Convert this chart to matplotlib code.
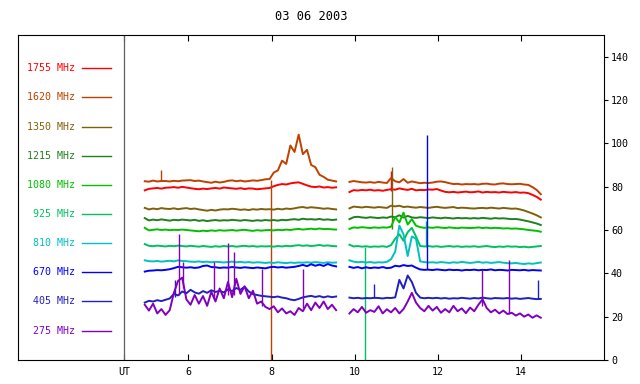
import numpy as np
import matplotlib
matplotlib.use('Agg')
import matplotlib.pyplot as plt
from matplotlib.transforms import blended_transform_factory

plt.rcParams['font.family'] = 'DejaVu Sans Mono'
plt.rcParams['font.size'] = 7.2

title = '03 06 2003'
x_ticks = [6, 8, 10, 12, 14]
y_ticks = [0, 20, 40, 60, 80, 100, 120, 140]
ut_pos = 4.45

labels = ['1755 MHz', '1620 MHz', '1350 MHz', '1215 MHz', '1080 MHz',
          '925 MHz', '810 MHz', '670 MHz', '405 MHz', '275 MHz']
colors = ['#ff0000', '#c04000', '#80600c', '#208020', '#00c000',
          '#00c060', '#00c0c0', '#0000ff', '#2020c0', '#8000c0']

# time grid (UT hours) of the two recording blocks
t_am = np.round(np.arange(4.95, 9.56, 0.1), 2)
t_pm = np.round(np.arange(9.87, 14.48, 0.1), 2)

# flux values
f1755_am = [78.3, 79.0, 79.2, 79.4, 79.1, 79.5, 79.6, 79.8, 79.5, 79.9,
            79.6, 79.3, 79.0, 78.8, 79.1, 78.9, 79.2, 79.4, 79.1, 79.6,
            79.4, 79.2, 79.0, 79.3, 78.9, 79.2, 79.1, 78.8, 79.0, 79.2,
            79.4, 80.2, 80.8, 81.2, 81.0, 81.5, 81.8, 82.0, 81.3, 80.6,
            80.0, 79.8, 80.1, 79.6, 79.8, 79.5, 79.7]
f1755_pm = [77.5, 78.4, 78.2, 78.5, 78.3, 78.6, 78.2, 78.4, 78.1, 78.5,
            78.8, 78.6, 79.2, 78.8, 78.5, 79.0, 78.3, 78.5, 78.4, 78.7,
            78.6, 78.9, 78.2, 77.6, 77.4, 77.6, 77.3, 77.5, 77.7, 77.4,
            77.5, 77.8, 77.3, 77.6, 77.4, 77.5, 77.3, 77.6, 77.4, 77.3,
            77.5, 77.2, 77.3, 77.0, 76.2, 75.3, 74.0]

f1620_am = [82.5, 82.3, 82.8, 82.4, 82.6, 82.6, 82.4, 82.7, 82.5, 82.8,
            82.9, 83.0, 82.6, 82.8, 82.4, 82.1, 81.8, 82.3, 81.9, 82.2,
            82.7, 82.9, 82.5, 82.8, 82.4, 82.6, 82.9, 82.7, 83.0, 83.4,
            83.5, 86.5, 87.5, 92.0, 90.5, 99.0, 96.0, 104.0, 95.0, 97.0,
            90.0, 89.0, 85.5, 84.5, 83.2, 82.8, 82.4]
f1620_pm = [82.2, 82.6, 82.3, 82.0, 81.9, 82.1, 81.8, 82.2, 81.9, 81.7,
            84.0, 82.5, 82.0, 83.5, 81.8, 82.4, 82.0, 81.6, 81.8, 81.7,
            81.9, 82.3, 82.4, 82.1, 81.6, 81.2, 81.3, 81.0, 81.2, 81.1,
            81.2, 81.0, 81.3, 81.4, 81.1, 81.0, 81.4, 81.5, 81.2, 81.1,
            81.2, 81.3, 81.0, 80.8, 79.8, 78.5, 76.5]

f1350_am = [70.2, 69.5, 69.9, 69.6, 70.1, 69.8, 69.7, 70.0, 69.6, 69.9,
            70.1, 69.7, 69.9, 69.5, 69.2, 68.9, 69.3, 69.0, 69.4, 69.6,
            69.5, 69.8, 69.6, 69.3, 69.5, 69.2, 69.6, 69.4, 69.7, 69.5,
            69.6, 69.4, 69.8, 69.5, 69.9, 69.7, 70.0, 70.4, 70.6, 70.2,
            70.5, 70.3, 70.1, 69.8, 70.0, 69.7, 69.5]
f1350_pm = [70.0, 70.8, 70.6, 70.4, 70.7, 70.5, 70.3, 70.6, 70.4, 70.2,
            71.2, 70.9, 71.2, 70.6, 70.8, 70.5, 70.3, 70.6, 70.4, 70.2,
            70.5, 70.7, 70.4, 70.2, 70.4, 70.6, 70.1, 70.3, 70.2, 70.0,
            69.9, 70.1, 70.2, 70.0, 70.3, 70.1, 69.9, 70.2, 70.0, 69.8,
            69.9, 69.5, 69.0, 68.3, 67.6, 66.8, 65.8]

f1215_am = [65.5, 64.4, 64.8, 64.5, 64.9, 64.6, 64.3, 64.7, 64.5, 64.8,
            64.6, 64.4, 64.7, 64.2, 64.5, 64.1, 64.4, 64.6, 64.3, 64.5,
            64.4, 64.7, 64.5, 64.3, 64.6, 64.4, 64.2, 64.5, 64.3, 64.6,
            64.4, 64.6, 64.3, 64.7, 64.5, 64.8, 65.0, 64.7, 65.2, 64.9,
            65.0, 64.8, 65.1, 64.7, 64.9, 64.6, 64.8]
f1215_pm = [65.0, 65.9, 66.1, 65.8, 65.6, 65.9, 65.7, 65.5, 65.8, 65.6,
            66.2, 65.9, 66.8, 65.7, 66.5, 65.8, 65.6, 65.9, 65.7, 65.5,
            65.8, 65.6, 65.4, 65.7, 65.5, 65.3, 65.6, 65.4, 65.5, 65.3,
            65.5, 65.3, 65.6, 65.4, 65.2, 65.5, 65.3, 65.4, 65.2, 65.0,
            65.1, 64.8, 64.4, 64.0, 63.5, 63.0, 62.3]

f1080_am = [61.0, 59.8, 60.1, 60.3, 60.0, 60.2, 59.9, 60.1, 60.0, 60.2,
            60.0, 59.8, 59.6, 59.4, 59.7, 59.5, 59.8, 59.6, 59.9, 59.7,
            59.8, 60.0, 59.7, 59.9, 60.1, 59.8, 59.6, 59.9, 59.7, 59.9,
            60.0, 59.8, 60.1, 59.9, 60.2, 60.0, 60.3, 60.5, 60.2, 60.4,
            60.6, 60.3, 60.7, 60.4, 60.5, 60.3, 60.2]
f1080_pm = [60.5, 61.2, 61.0, 61.3, 61.1, 60.9, 61.2, 61.0, 61.2, 61.1,
            61.5, 66.0, 63.5, 68.0, 62.5, 65.0, 62.0, 61.3, 61.0, 61.2,
            61.0, 61.3, 61.1, 60.9, 61.2, 61.0, 60.8, 61.1, 61.0, 60.9,
            61.0, 61.2, 60.9, 61.1, 60.8, 61.0, 60.9, 60.7, 60.8, 60.6,
            60.7, 60.5, 60.3, 60.0, 59.8, 59.6, 59.2]

f925_am = [53.5, 52.7, 52.5, 52.8, 52.6, 52.4, 52.7, 52.5, 52.8, 52.6,
           52.4, 52.7, 52.5, 52.3, 52.6, 52.4, 52.2, 52.5, 52.3, 52.6,
           52.4, 52.6, 52.3, 52.5, 52.7, 52.4, 52.6, 52.3, 52.5, 52.4,
           52.5, 52.3, 52.6, 52.4, 52.7, 52.5, 52.8, 53.0, 52.7, 52.9,
           52.6, 52.8, 53.1, 52.7, 52.9, 52.6, 52.5]
f925_pm = [53.2, 52.4, 52.6, 52.3, 52.5, 52.2, 52.4, 52.3, 52.5, 52.2,
           53.0, 56.0, 58.0, 55.0, 59.0, 61.0, 57.0, 52.6, 52.4, 52.6,
           52.3, 52.5, 52.2, 52.4, 52.6, 52.3, 52.5, 52.2, 52.4, 52.3,
           52.5, 52.2, 52.4, 52.6, 52.3, 52.1, 52.4, 52.2, 52.5, 52.3,
           52.4, 52.1, 52.3, 52.0, 52.2, 52.4, 52.6]

f810_am = [46.0, 45.6, 45.5, 45.7, 45.4, 45.6, 45.8, 45.5, 46.0, 45.7,
           45.6, 45.4, 45.3, 45.5, 45.2, 45.4, 45.1, 45.3, 45.2, 45.0,
           45.2, 45.4, 45.1, 45.3, 45.0, 45.2, 44.9, 45.1, 45.0, 44.8,
           45.0, 44.8, 45.1, 44.9, 44.7, 45.0, 44.8, 45.0, 44.9, 45.1,
           44.9, 45.2, 45.0, 44.8, 45.1, 44.9, 45.0]
f810_pm = [46.0, 45.4, 45.1, 45.3, 45.0, 45.2, 44.9, 45.1, 45.0, 45.3,
           46.5, 50.0, 62.0, 58.0, 48.0, 57.0, 56.0, 45.5, 45.2, 45.0,
           45.1, 44.9, 45.2, 45.0, 44.8, 45.1, 44.9, 45.3, 45.0, 44.8,
           45.0, 45.3, 44.9, 45.1, 44.8, 45.0, 45.2, 44.9, 44.7, 44.6,
           44.8, 44.5, 44.3, 44.6, 44.4, 44.7, 45.0]

f670_am = [40.8, 41.2, 41.3, 41.5, 41.4, 41.6, 41.9, 42.4, 43.0, 42.8,
           42.6, 42.8, 42.5, 42.7, 43.4, 43.6, 42.9, 42.8, 42.5, 42.7,
           42.6, 42.9, 42.7, 42.5, 42.8, 42.6, 42.4, 42.7, 42.5, 42.3,
           42.8, 43.0, 42.7, 42.9, 42.6, 42.8, 43.0, 43.4, 43.9, 43.3,
           44.2, 43.5, 44.0, 43.4, 44.3, 43.6, 43.2]
f670_pm = [43.0, 42.5, 42.9, 42.3, 42.8, 42.4, 42.7, 42.5, 42.9, 42.4,
           42.6, 43.5, 43.2, 43.8, 43.4, 43.6, 42.6, 41.8, 41.6, 41.7,
           41.5, 41.8, 41.6, 41.4, 41.7, 41.5, 41.6, 41.3, 41.6, 41.5,
           41.7, 41.4, 41.6, 41.5, 41.8, 41.4, 41.6, 41.5, 41.3, 41.6,
           41.5, 41.4, 41.6, 41.3, 41.5, 41.4, 41.3]

f405_am = [26.5, 27.3, 27.0, 27.6, 27.2, 27.8, 28.4, 30.5, 29.8, 31.6,
           30.8, 32.4, 31.2, 30.6, 31.8, 31.0, 32.2, 31.4, 31.9, 31.2,
           32.6, 31.8, 33.2, 32.4, 33.8, 31.6, 30.4, 30.0, 29.6, 29.4,
           29.2, 29.0, 29.3, 28.8, 28.5, 27.9, 27.6, 28.2, 28.9, 29.3,
           29.6, 29.1, 29.5, 28.9, 29.4, 29.0, 29.3]
f405_pm = [28.8, 28.5, 28.7, 28.4, 28.6, 28.5, 28.7, 28.6, 28.4, 28.7,
           28.6, 28.9, 37.0, 33.0, 39.0, 36.0, 31.0, 28.8, 28.5, 28.7,
           28.5, 28.7, 28.4, 28.6, 28.3, 28.5, 28.4, 28.7, 28.5, 28.3,
           28.6, 28.4, 28.8, 28.5, 28.3, 28.6, 28.5, 28.4, 28.6, 28.3,
           28.5, 28.2, 28.4, 28.6, 28.3, 28.1, 28.2]

f275_am = [25.5, 22.8, 26.0, 21.5, 23.5, 20.8, 23.0, 31.0, 36.5, 38.0,
           28.0, 25.5, 30.0, 26.0, 29.5, 25.0, 31.5, 27.0, 33.0, 28.5,
           36.0, 29.0, 37.5, 30.5, 34.0, 28.5, 32.0, 26.0, 27.0, 24.5,
           23.5, 24.8, 22.0, 23.8, 21.5, 22.5, 20.8, 24.0, 22.5, 26.0,
           23.0, 26.5, 24.0, 27.0, 23.5, 25.5, 23.0]
f275_pm = [21.5, 23.5, 22.0, 24.5, 21.8, 23.0, 22.2, 24.8, 21.5, 23.4,
           22.0, 24.0, 21.5, 23.5, 27.0, 31.0, 26.5, 24.0, 22.5, 25.0,
           22.8, 24.5, 21.8, 23.5, 22.0, 25.0, 22.5, 23.8, 21.6, 24.2,
           22.5, 25.5, 28.0, 24.0, 22.0, 23.2, 21.5, 22.8, 21.2, 21.8,
           20.5, 21.5, 20.0, 21.0, 19.5, 20.6, 19.5]

# single-sample spikes / dropouts: channel index, time, low, high
spike_chan = [1, 1, 0, 2, 5, 5, 7, 8, 8, 8, 9, 9, 9, 9, 9, 9, 9, 9, 9]
spike_t = [5.34, 7.98, 10.88, 10.90, 10.24, 11.72, 11.73, 5.68, 10.46, 14.40,
           5.77, 5.87, 6.62, 6.95, 7.10, 7.76, 8.76, 13.05, 13.71]
spike_lo = [82.5, 0, 78, 60.5, 0, 52, 42, 29, 28.6, 28,
            30, 33, 28, 30, 30, 25, 24, 25, 21]
spike_hi = [87.7, 83, 87, 89, 52, 64, 104, 37, 35, 37,
            58, 45, 45, 54, 50, 42, 42, 41.5, 46]

am = [f1755_am, f1620_am, f1350_am, f1215_am, f1080_am,
      f925_am, f810_am, f670_am, f405_am, f275_am]
pm = [f1755_pm, f1620_pm, f1350_pm, f1215_pm, f1080_pm,
      f925_pm, f810_pm, f670_pm, f405_pm, f275_pm]

fig = plt.figure(figsize=(6.4, 3.84), dpi=100)
ax = fig.add_axes([0.0286, 0.0625, 0.9152, 0.8464])

ax.axvline(ut_pos, color='#606060', lw=0.9)

for i in range(len(labels)):
    ax.plot(t_am, am[i], color=colors[i], lw=1.4)
    ax.plot(t_pm, pm[i], color=colors[i], lw=1.4)
    for c, t, lo, hi in zip(spike_chan, spike_t, spike_lo, spike_hi):
        if c == i:
            ax.vlines(t, lo, hi, color=colors[i], lw=1.0)

# legend drawn by hand on the left
tr = blended_transform_factory(ax.transAxes, ax.transData)
for i, lab in enumerate(labels):
    y = 134.6 - 13.45 * i
    ax.text(0.0968, y, lab, transform=tr, ha='right', va='center', color=colors[i])
    ax.plot([0.1093, 0.1578], [y, y], transform=tr, color=colors[i], lw=1.0)

ax.set_xlim(1.91, 15.99)
ax.set_ylim(0, 150)
ax.set_xticks([ut_pos] + x_ticks)
ax.set_xticklabels(['UT'] + [str(v) for v in x_ticks])
ax.tick_params(axis='x', direction='in', top=True, length=4, width=0.8, pad=5)
ax.yaxis.tick_right()
ax.set_yticks(y_ticks)
ax.tick_params(axis='y', direction='out', length=3, width=0.8, pad=2, left=False)
for s in ax.spines.values():
    s.set_linewidth(0.8)
ax.set_title(title, pad=11)

fig.savefig('out.png', dpi=100)
